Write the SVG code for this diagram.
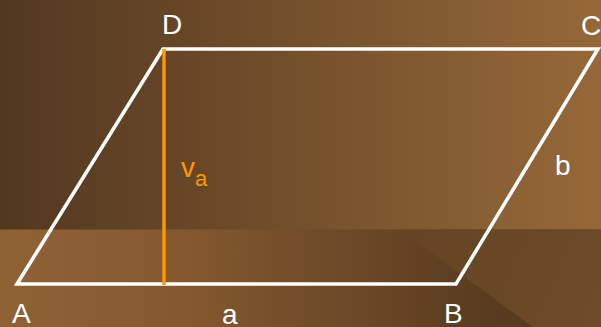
<svg xmlns="http://www.w3.org/2000/svg" width="601" height="327" viewBox="0 0 601 327">
<defs>
<linearGradient id="gTop" x1="0" y1="0" x2="601" y2="0" gradientUnits="userSpaceOnUse">
<stop offset="0" stop-color="#523720"/>
<stop offset="0.5" stop-color="#74502b"/>
<stop offset="1" stop-color="#966839"/>
</linearGradient>
<linearGradient id="gBot" x1="0" y1="0" x2="500" y2="0" gradientUnits="userSpaceOnUse">
<stop offset="0" stop-color="#8f6236"/>
<stop offset="0.35" stop-color="#85592f"/>
<stop offset="1" stop-color="#573a1f"/>
</linearGradient>
<linearGradient id="gRight" x1="400" y1="230" x2="601" y2="327" gradientUnits="userSpaceOnUse">
<stop offset="0" stop-color="#644425"/>
<stop offset="1" stop-color="#6e4b28"/>
</linearGradient>
<style>
.side{fill:none;stroke:#ffffff;stroke-width:3.6;stroke-linejoin:miter}
.h{stroke:#ff9900;stroke-width:3.4}
.lbl{font-family:"Liberation Sans",Arial,sans-serif;font-size:28px;fill:#ffffff}
.or{fill:#ff9900}
</style>
</defs>
<g id="background">
<rect x="0" y="0" width="601" height="230" fill="url(#gTop)"/>
<rect x="0" y="229.5" width="601" height="97.5" fill="url(#gBot)"/>
<polygon points="400,229.5 601,229.5 601,327 533,327" fill="url(#gRight)"/>
</g>
<g id="connectors">
<polygon id="parallelogram" class="side" points="17,284 456,284 598,49 163,49"/>
<line id="height" class="h" x1="164" y1="49" x2="164" y2="285"/>
</g>
<g id="node-A"><text class="lbl" x="12" y="323">A</text></g>
<g id="node-B"><text class="lbl" x="444" y="323">B</text></g>
<g id="node-C"><text class="lbl" x="581" y="35">C</text></g>
<g id="node-D"><text class="lbl" x="162" y="34">D</text></g>
<g id="label-a"><text class="lbl" x="222" y="324">a</text></g>
<g id="label-b"><text class="lbl" x="555" y="175">b</text></g>
<g id="label-va"><text class="lbl or" x="181" y="177">v<tspan font-size="22" dy="9">a</tspan></text></g>
</svg>
